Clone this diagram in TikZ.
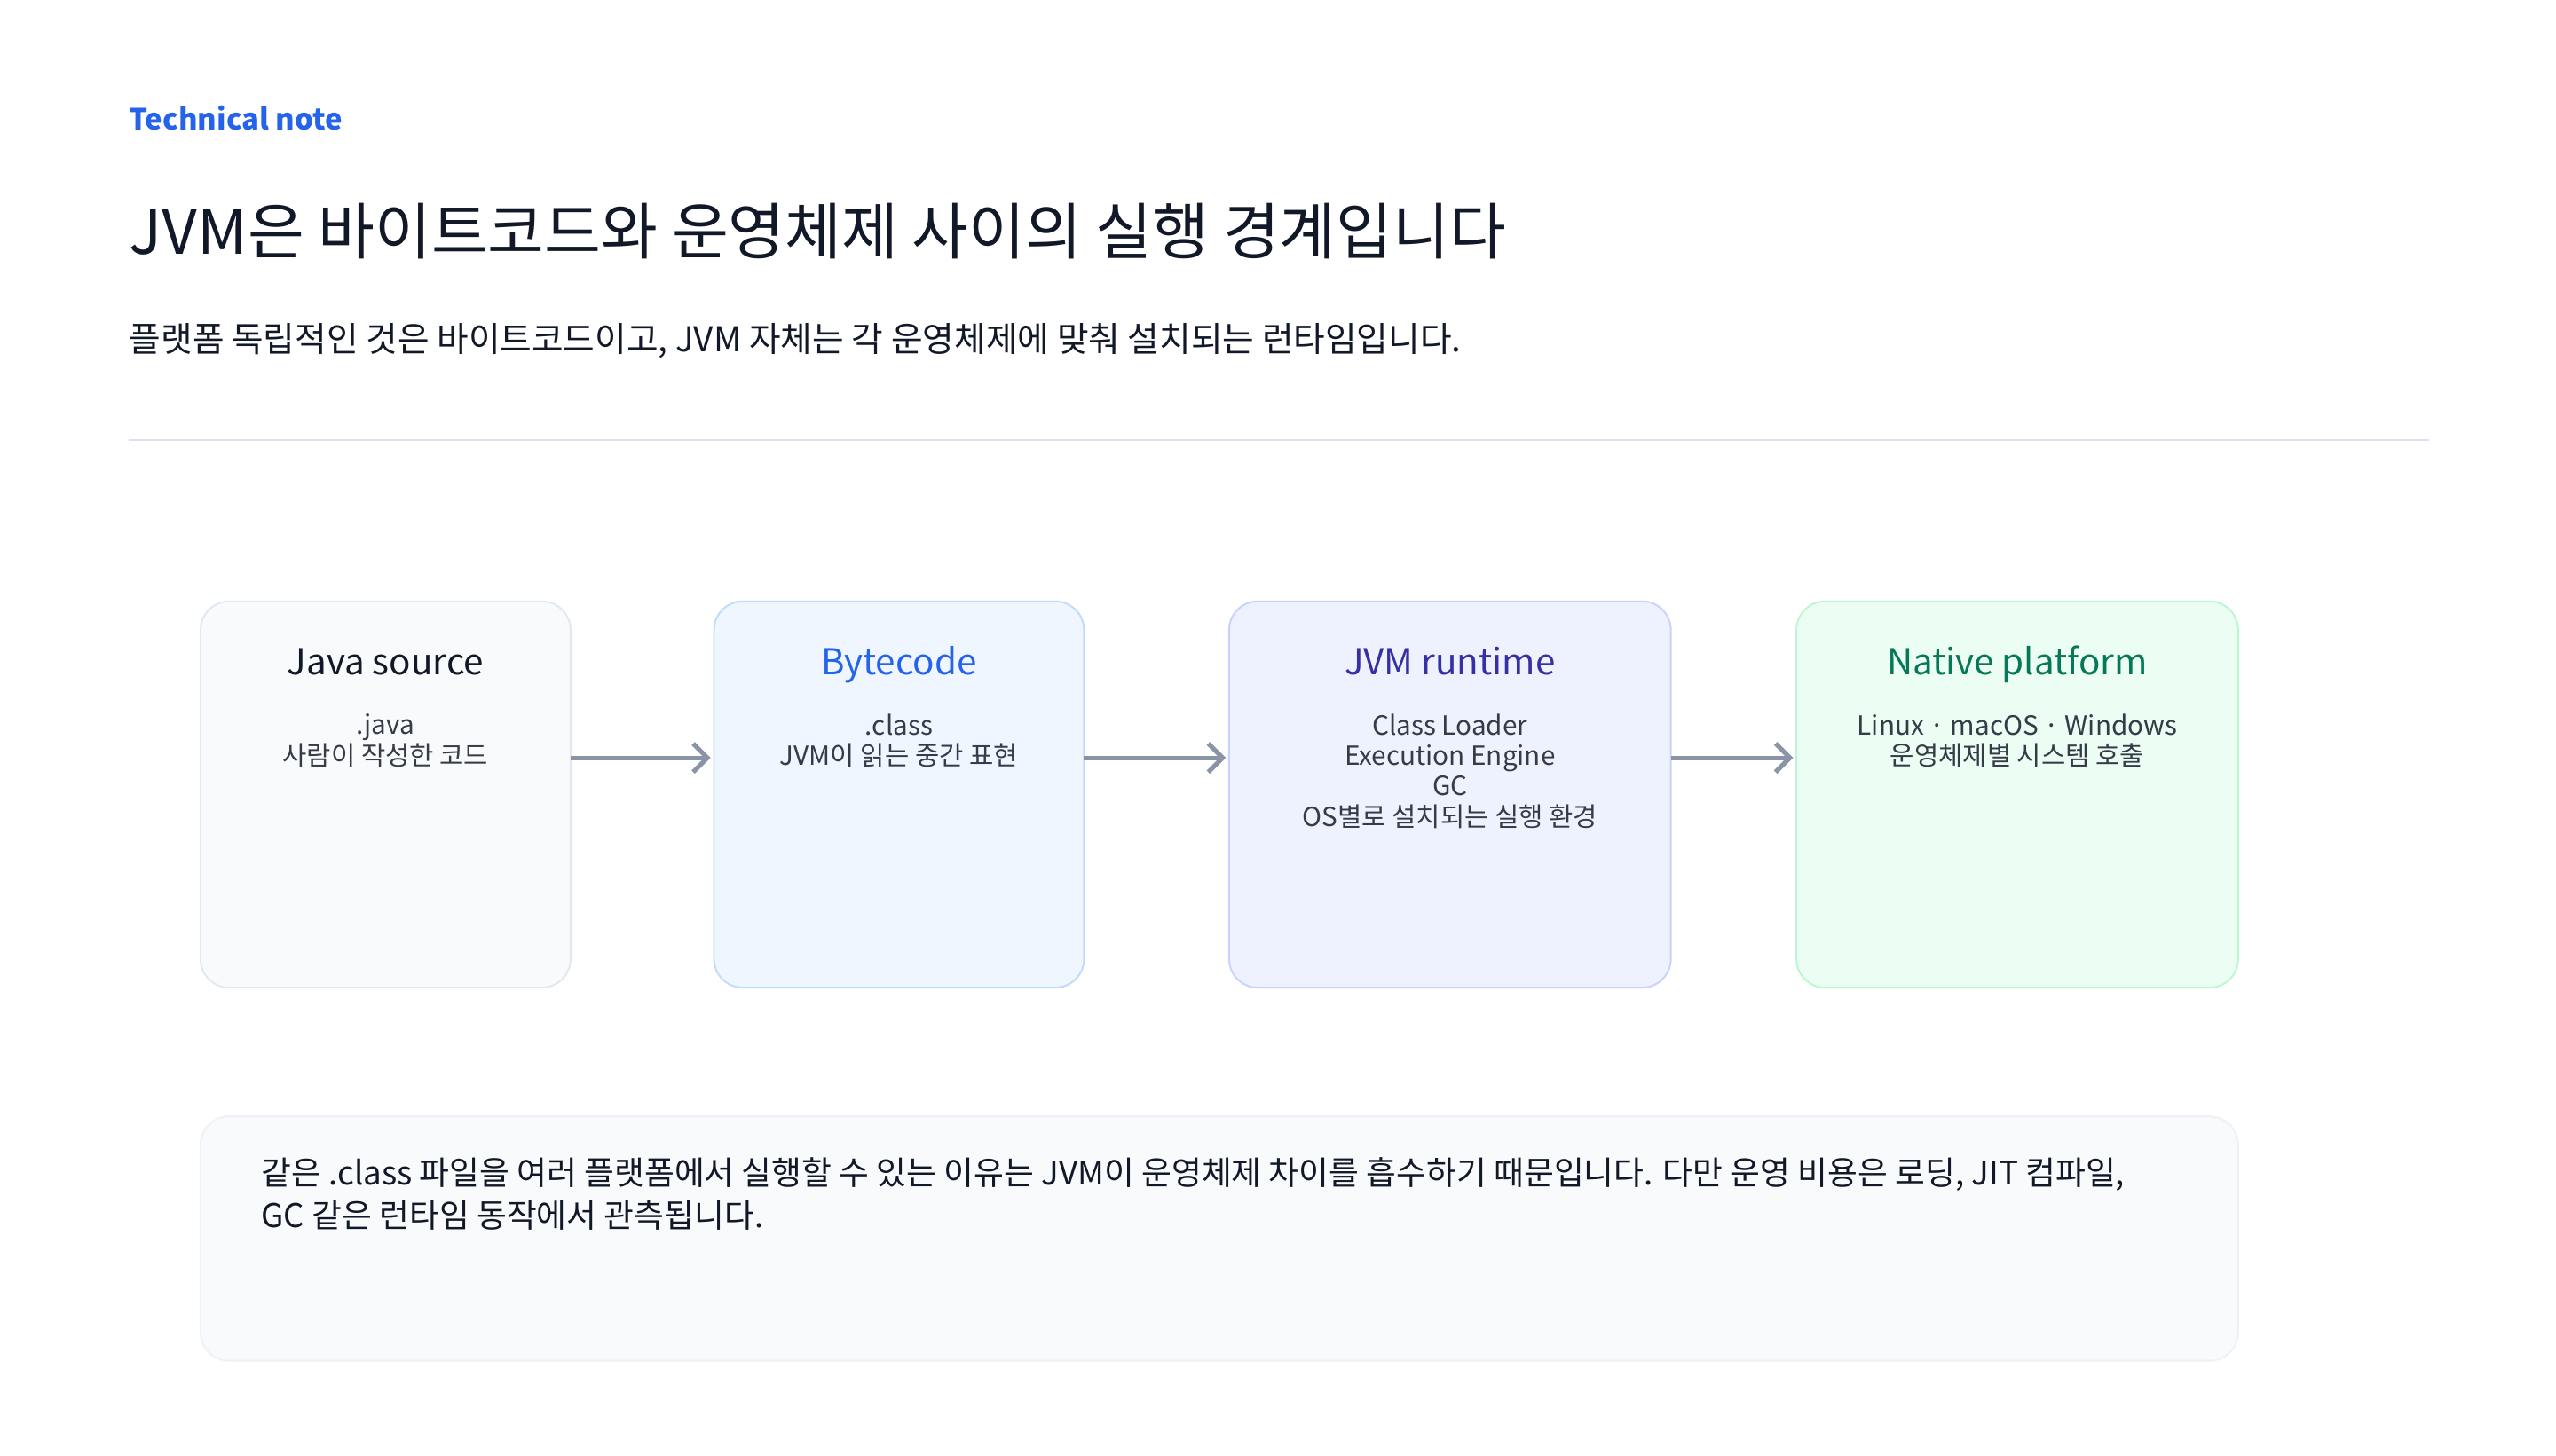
\documentclass[tikz,border=0pt]{standalone}
\usepackage{fontspec}
\setmainfont{Noto Sans CJK KR}
\usetikzlibrary{arrows.meta,positioning}
\definecolor{accent}{HTML}{2563EB}
\definecolor{ink}{HTML}{111827}
\definecolor{rule}{HTML}{DCE3EE}
\definecolor{arrowgray}{HTML}{8A94A6}
\definecolor{bcfill}{HTML}{EFF6FF}
\definecolor{bcline}{HTML}{BFDBFE}
\definecolor{jvmfill}{HTML}{EEF2FF}
\definecolor{jvmline}{HTML}{C7D2FE}
\definecolor{jvmtext}{HTML}{3730A3}
\definecolor{natfill}{HTML}{ECFDF3}
\definecolor{natline}{HTML}{BBF7D0}
\definecolor{nattext}{HTML}{047857}
\definecolor{srcfill}{HTML}{F8FAFC}
\definecolor{srcline}{HTML}{E2E8F0}
\tikzset{
  card/.style={draw, rounded corners=10pt, line width=0.6pt},
  cardtitle/.style={font=\fontsize{12.5}{14}\selectfont, anchor=base},
  cardtext/.style={font=\fontsize{9.2}{10.6}\selectfont, text=ink!85, align=center, anchor=north},
  flow/.style={-{Straight Barb[length=5pt,width=10pt]}, draw=arrowgray, line width=1.6pt}
}
\begin{document}
\begin{tikzpicture}[x=0.02cm,y=-0.02cm]
  \useasboundingbox[fill=white] (0,0) rectangle (1568,893);
  % header
  \node[anchor=base west, inner sep=0, text=accent, font=\fontsize{10.2}{12}\bfseries\selectfont] (tag) at (79,80) {Technical note};
  \node[anchor=base west, inner sep=0, text=ink, font=\fontsize{21.5}{24}\selectfont] (title) at (79,156) {JVM은 바이트코드와 운영체제 사이의 실행 경계입니다};
  \node[anchor=base west, inner sep=0, text=ink, font=\fontsize{12}{13}\selectfont] (sub) at (79,216) {플랫폼 독립적인 것은 바이트코드이고, JVM 자체는 각 운영체제에 맞춰 설치되는 런타임입니다.};
  \draw[rule, line width=0.8pt] (79,270) -- (1490,270);
  % cards
  \draw[card, draw=srcline, fill=srcfill] (123,369) rectangle (350,606);
  \draw[card, draw=bcline, fill=bcfill] (438,369) rectangle (665,606);
  \draw[card, draw=jvmline, fill=jvmfill] (754,369) rectangle (1025,606);
  \draw[card, draw=natline, fill=natfill] (1102,369) rectangle (1373,606);
  \node[cardtitle, text=ink] (srcT) at (236.5,414) {Java source};
  \node[cardtext] (srcD) at (236.5,432) {.java\\사람이 작성한 코드};
  \node[cardtitle, text=accent] (bcT) at (551.5,414) {Bytecode};
  \node[cardtext] (bcD) at (551.5,432) {.class\\JVM이 읽는 중간 표현};
  \node[cardtitle, text=jvmtext] (jvmT) at (889.5,414) {JVM runtime};
  \node[cardtext] (jvmD) at (889.5,432) {Class Loader\\Execution Engine\\GC\\OS별로 설치되는 실행 환경};
  \node[cardtitle, text=nattext] (natT) at (1237.5,414) {Native platform};
  \node[cardtext] (natD) at (1237.5,432) {Linux · macOS · Windows\\운영체제별 시스템 호출};
  % arrows
  \coordinate (a1) at (350,465); \coordinate (b1) at (436,465);
  \coordinate (a2) at (665,465); \coordinate (b2) at (752,465);
  \coordinate (a3) at (1025,465); \coordinate (b3) at (1100,465);
  \draw[flow] (a1) -- (b1);
  \draw[flow] (a2) -- (b2);
  \draw[flow] (a3) -- (b3);
  % note
  \draw[card, draw=srcline!60, fill=srcfill] (123,685) rectangle (1373,835);
  \node[anchor=north west, inner sep=0, text=ink, font=\fontsize{11.4}{14.8}\selectfont, align=left] (note) at (160,710)
    {같은 .class 파일을 여러 플랫폼에서 실행할 수 있는 이유는 JVM이 운영체제 차이를 흡수하기 때문입니다. 다만 운영 비용은 로딩, JIT 컴파일,\\GC 같은 런타임 동작에서 관측됩니다.};
\end{tikzpicture}
\end{document}
